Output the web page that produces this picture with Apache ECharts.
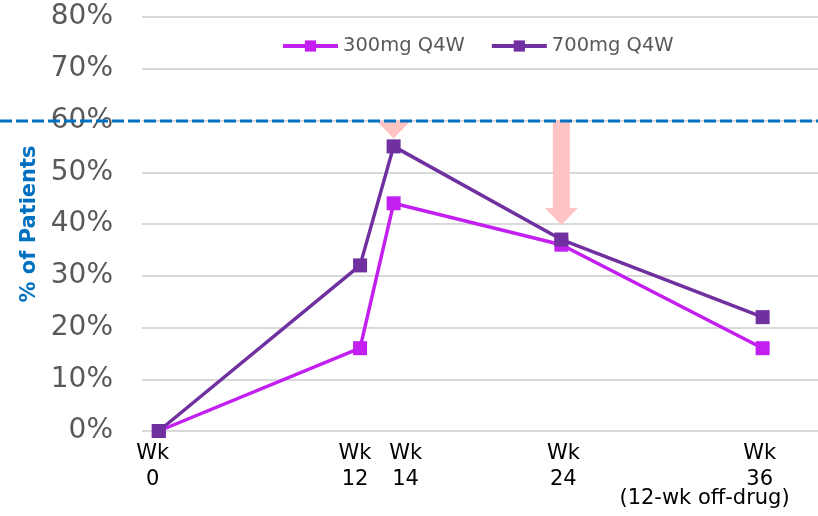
<!DOCTYPE html>
<html>
<head>
<meta charset="utf-8">
<script src="https://cdn.jsdelivr.net/npm/echarts@6/dist/echarts.min.js"></script>
<style>html,body{margin:0;padding:0;background:#fff;}#c{width:818px;height:516px;}</style>
</head>
<body>
<div id="c"></div>
<script>
// ---- data ----
const weeks = [0, 12, 14, 24, 36];
const tickLabels = ['Wk\n0', 'Wk\n12', 'Wk\n14', 'Wk\n24', 'Wk\n36'];
const offDrugNote = '(12-wk off-drug)';
const series300 = [0, 16, 44, 36, 16];
const series700 = [0, 32, 55, 37, 22];
const seriesNames = ['300mg Q4W', '700mg Q4W'];
const thresholdValue = 60;
const arrowWeeks = [14, 24];
const arrowFrom = [60, 60];
const arrowTo = [56.5, 39.8];

const FONT = '"DejaVu Sans", Verdana, sans-serif';
const C300 = '#C21FF0';
const C700 = '#7030A0';

const chart = echarts.init(document.getElementById('c'));
const pair = (xs, ys) => xs.map((x, i) => [x, ys[i]]);

// small horizontal nudges of the tick labels (style only)
const labelPad = [[0, 12, 0, 0], [0, 10, 0, 0], [0, 0, 0, 24], [0, 0, 0, 4], [0, 6, 0, 0]];
const rich = {};
labelPad.forEach((p, i) => {
  rich['l' + i] = { padding: p, fontFamily: FONT, fontSize: 21, color: '#000', lineHeight: 26 };
});

chart.setOption({
  animation: false,
  textStyle: { fontFamily: FONT },
  grid: { left: 142, right: 0, top: 17, bottom: 85, containLabel: false },
  legend: {
    left: 281, top: 36, padding: 0,
    itemWidth: 55, itemHeight: 14, itemGap: 25,
    lineStyle: { width: 4 },
    textStyle: { fontFamily: FONT, fontSize: 19.5, color: '#595959' },
    data: seriesNames
  },
  xAxis: {
    type: 'value', min: -1, max: 39.3,
    splitLine: { show: false },
    axisLine: { show: false },
    axisTick: { show: false },
    axisLabel: {
      customValues: weeks,
      formatter: v => {
        const i = weeks.indexOf(v);
        if (i < 0) return '';
        return tickLabels[i].split('\n').map(s => '{l' + i + '|' + s + '}').join('\n');
      },
      rich: rich,
      fontFamily: FONT, fontSize: 21, color: '#000', lineHeight: 26, margin: 10
    }
  },
  yAxis: {
    type: 'value', min: 0, max: 80, interval: 10,
    name: '% of Patients', nameLocation: 'middle', nameGap: 100,
    nameTextStyle: { fontFamily: FONT, fontSize: 21, fontWeight: 'bold', color: '#0070C0' },
    axisLine: { show: false }, axisTick: { show: false },
    axisLabel: { formatter: '{value}%', fontFamily: FONT, fontSize: 28, color: '#595959', margin: 29 },
    splitLine: { lineStyle: { color: '#D9D9D9', width: 2 } }
  },
  series: [
    {
      type: 'custom', name: 'arrows', silent: true, z: 1,
      data: arrowWeeks.map((w, i) => [w, arrowFrom[i], arrowTo[i]]),
      encode: { x: 0, y: [1, 2] },
      renderItem: (params, api) => {
        const top = api.coord([api.value(0), api.value(1)]);
        const tip = api.coord([api.value(0), api.value(2)]);
        const x = top[0], sw = 8.5, hw = 16.5, hl = 17;
        return {
          type: 'polygon',
          shape: { points: [[x - sw, top[1]], [x + sw, top[1]], [x + sw, tip[1] - hl], [x + hw, tip[1] - hl], [x, tip[1]], [x - hw, tip[1] - hl], [x - sw, tip[1] - hl]] },
          style: { fill: '#FFC3C3' }
        };
      }
    },
    {
      type: 'line', name: seriesNames[0], data: pair(weeks, series300), z: 3,
      symbol: 'rect', symbolSize: 14,
      lineStyle: { color: C300, width: 3.5 }, itemStyle: { color: C300 }
    },
    {
      type: 'line', name: seriesNames[1], data: pair(weeks, series700), z: 4,
      symbol: 'rect', symbolSize: 14,
      lineStyle: { color: C700, width: 3.5 }, itemStyle: { color: C700 }
    }
  ]
});

const yT = chart.convertToPixel({ yAxisIndex: 0 }, thresholdValue);
const p36 = chart.convertToPixel({ xAxisIndex: 0 }, weeks[weeks.length - 1]);
const p0 = chart.convertToPixel({ yAxisIndex: 0 }, 0);
chart.setOption({
  graphic: [
    {
      type: 'line', z: 100, silent: true,
      shape: { x1: 0, y1: yT + 0.5, x2: 818, y2: yT + 0.5 },
      style: { stroke: '#0070C0', lineWidth: 3, lineDash: [12, 4] }
    },
    {
      type: 'text', z: 100, silent: true,
      x: p36 + 27, y: p0 + 68,
      style: { text: offDrugNote, font: '21px ' + FONT, fill: '#000', align: 'right', verticalAlign: 'middle' }
    }
  ]
});
</script>
</body>
</html>
